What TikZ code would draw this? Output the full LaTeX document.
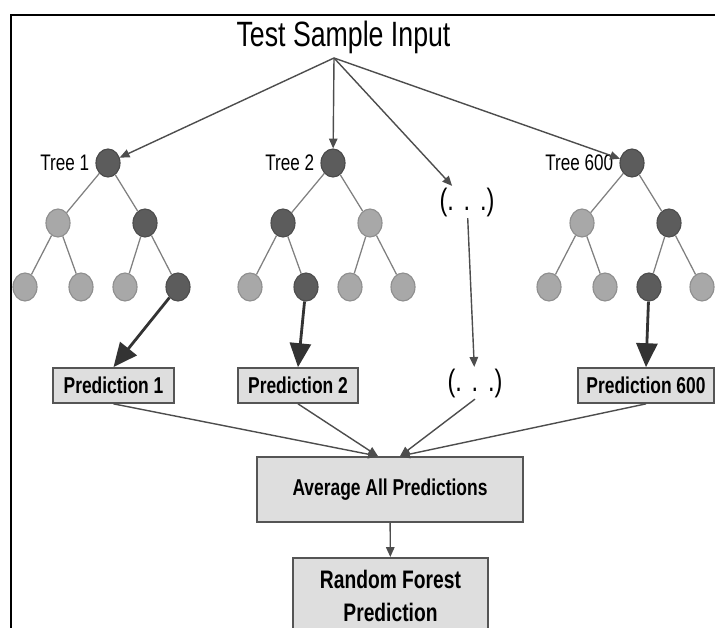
\documentclass[tikz,border=0pt]{standalone}
\usepackage{fontspec}
\setmainfont{Liberation Sans}[FakeStretch=0.76]
\usetikzlibrary{positioning,shapes.geometric,arrows.meta}
\definecolor{darkfill}{HTML}{5C5C5C}
\definecolor{lightfill}{HTML}{A8A8A8}
\definecolor{edgegray}{HTML}{808080}
\definecolor{arrowgray}{HTML}{4D4D4D}
\definecolor{boxfill}{HTML}{DEDEDE}
\definecolor{boxdraw}{HTML}{555555}
\begin{document}
\begin{tikzpicture}[x=0.025cm,y=-0.025cm,
		treenode/.style={ellipse,minimum width=0.6cm,minimum height=0.7cm,inner sep=0pt,line width=0.8pt},
		treeedge/.style={draw=edgegray,line width=0.9pt},
		treelabel/.style={inner sep=0pt,font=\fontsize{16}{19}\selectfont},
		thinarrow/.style={draw=arrowgray,line width=1pt,-{Triangle[length=7pt,width=6pt]}},
		thickarrow/.style={draw=black!80,line width=2pt,-{Triangle[length=17pt,width=15pt]}},
		predbox/.style={draw=boxdraw,fill=boxfill,line width=1.2pt,minimum height=0.875cm,inner sep=0pt,font=\bfseries\fontsize{16.3}{19}\selectfont},
		dots/.style={inner sep=1pt,font=\fontsize{22}{26}\selectfont}]
	\clip (0,0) rectangle (715,628);
	\draw [line width=2pt] (11,628) -- (11,15) -- (715,15);

	\node [anchor=base,font=\fontsize{25}{30}\selectfont] (title) at (343.5,47) {Test Sample Input};
	\coordinate (src) at (334,58);

	% the three trees
	\foreach \tr/\x/\ca/\cb/\caa/\cab/\cba/\cbb in {1/108/lightfill/darkfill/lightfill/lightfill/lightfill/darkfill,
			2/333/darkfill/lightfill/lightfill/darkfill/lightfill/lightfill,
			600/632/lightfill/darkfill/lightfill/lightfill/darkfill/lightfill}{
		\node [treenode,fill=darkfill,draw=darkfill!80!black] (r\tr) at (\x,163) {};
		\node [treenode,fill=\ca,draw=\ca!85!black] (a\tr) at (\x-50,223) {};
		\node [treenode,fill=\cb,draw=\cb!85!black] (b\tr) at (\x+37,223) {};
		\node [treenode,fill=\caa,draw=\caa!85!black] (aa\tr) at (\x-83,287) {};
		\node [treenode,fill=\cab,draw=\cab!85!black] (ab\tr) at (\x-27,287) {};
		\node [treenode,fill=\cba,draw=\cba!85!black] (ba\tr) at (\x+17,287) {};
		\node [treenode,fill=\cbb,draw=\cbb!85!black] (bb\tr) at (\x+70,287) {};
		\node [treelabel,left=0.15cm of r\tr] (lab\tr) {Tree \tr};
		\draw [treeedge] (r\tr) -- (a\tr) (r\tr) -- (b\tr) (a\tr) -- (aa\tr) (a\tr) -- (ab\tr) (b\tr) -- (ba\tr) (b\tr) -- (bb\tr);
	}

	\node [dots] (up) at (467,202) {(.\hspace{7pt}.\hspace{7pt}.)};
	\node [dots] (lo) at (475,383) {(.\hspace{7pt}.\hspace{7pt}.)};

	\node [predbox,minimum width=3.025cm] (p1) at (113.5,385.5) {Prediction 1};
	\node [predbox,minimum width=3cm] (p2) at (298,385.5) {Prediction 2};
	\node [predbox,minimum width=3.4cm] (p600) at (646,385.5) {Prediction 600};

	\node [predbox,minimum width=6.65cm,minimum height=1.625cm] (avg) at (390,489.5) {Average All Predictions};
	\node [predbox,anchor=north,minimum width=4.875cm,align=center,inner ysep=9pt,font=\bfseries\fontsize{18}{23.5}\selectfont] (rf) at (390.5,557) {Random Forest\\Prediction};

	\coordinate (inL) at ([xshift=-0.3cm]avg.north);
	\coordinate (inR) at ([xshift=0.25cm]avg.north);

	\draw [thinarrow] (src) -- (r1);
	\draw [thinarrow] (src) -- (r2);
	\draw [thinarrow] (src) -- (up);
	\draw [thinarrow] (src) -- (r600);
	\draw [thinarrow] (up) -- (lo);

	\draw [thickarrow] (bb1) -- (p1.north);
	\draw [thickarrow] (ab2) -- (p2.north);
	\draw [thickarrow] (ba600) -- (p600.north);

	\draw [thinarrow] (p1.south) -- (inL);
	\draw [thinarrow] (p2.south) -- (inL);
	\draw [thinarrow] (lo.south) -- (inR);
	\draw [thinarrow] (p600.south) -- (inR);
	\draw [thinarrow] (avg) -- (rf);
\end{tikzpicture}
\end{document}
